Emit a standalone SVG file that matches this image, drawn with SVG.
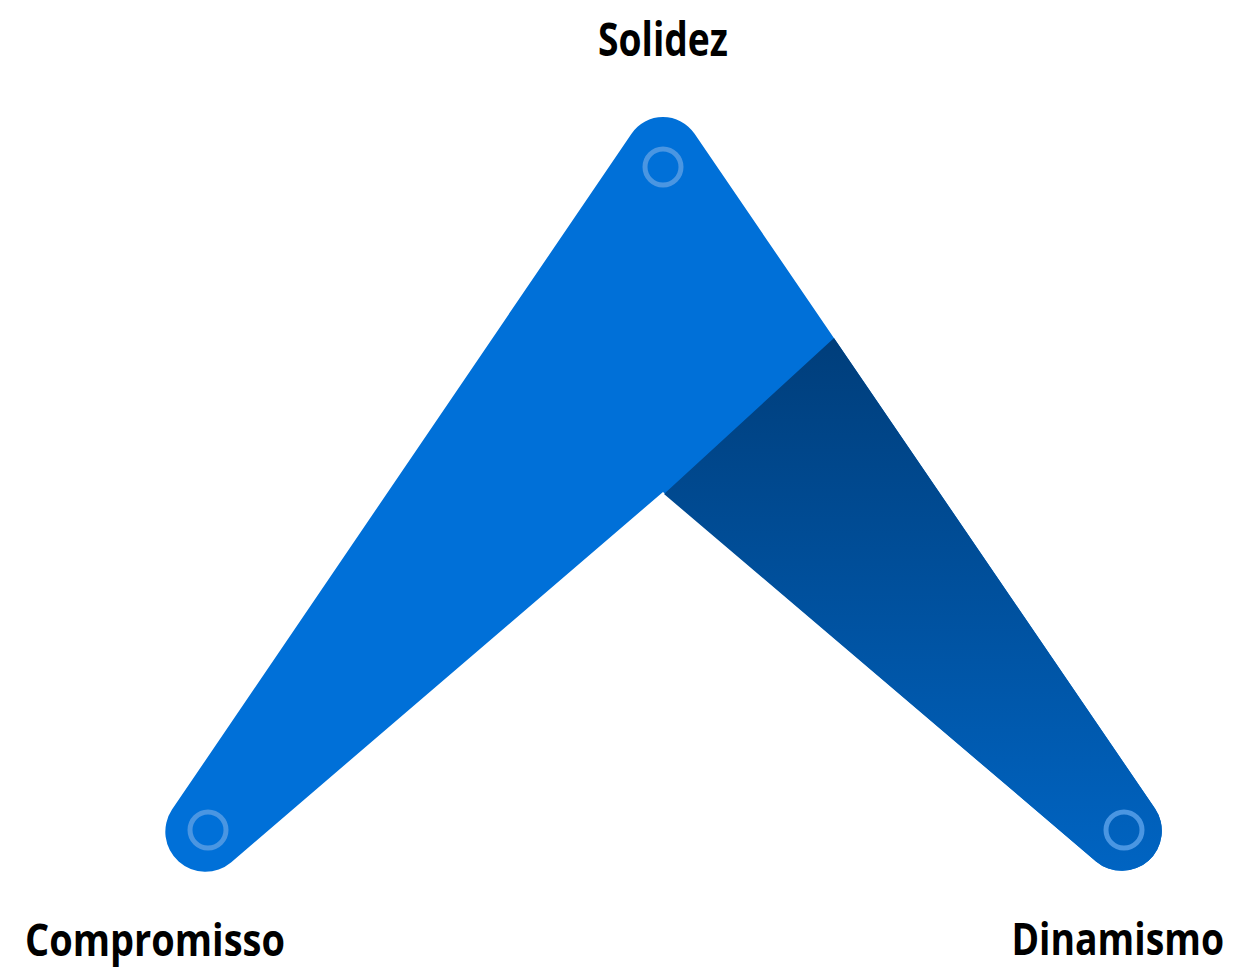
<svg xmlns="http://www.w3.org/2000/svg" width="1234" height="971" viewBox="0 0 1234 971">
<style>
.lbl{font-family:"Open Sans","Noto Sans","Liberation Sans",sans-serif;font-weight:700;font-size:47px;fill:#000}
.low{font-size:45px}
.ring{fill:none;stroke:#4a96e2;stroke-width:5}
</style>
<defs>
<linearGradient id="dk" x1="0" y1="338" x2="0" y2="872" gradientUnits="userSpaceOnUse">
<stop offset="0" stop-color="#003e7b"/>
<stop offset="1" stop-color="#0064c2"/>
</linearGradient>
</defs>
<rect width="1234" height="971" fill="#fff"/>
<g id="shape">
<path d="M172,809.6 L631.5,133.7 A38,38 0 0 1 694.4,133.6 L1155,808.5 A40,40 0 0 1 1096,861.4 L663,492 L231,862.4 A40,40 0 0 1 172,809.6 Z" fill="#0070d8"/>
<path d="M834,338 L1155,808.5 A40,40 0 0 1 1096,861.4 L664,494 Z" fill="url(#dk)"/>
</g>
<g id="node-solidez">
<circle class="ring" cx="663" cy="167" r="18"/>
<text class="lbl" x="663" y="56" text-anchor="middle" textLength="130" lengthAdjust="spacingAndGlyphs">Solidez</text>
</g>
<g id="node-compromisso">
<circle class="ring" cx="208" cy="830" r="18"/>
<text class="lbl low" x="25" y="956" textLength="260" lengthAdjust="spacingAndGlyphs">Compromisso</text>
</g>
<g id="node-dinamismo">
<circle class="ring" cx="1124" cy="830" r="18"/>
<text class="lbl low" transform="translate(1224,955) scale(0.83,1)" text-anchor="end">Dinamismo</text>
</g>
<g id="connectors"></g>
</svg>
